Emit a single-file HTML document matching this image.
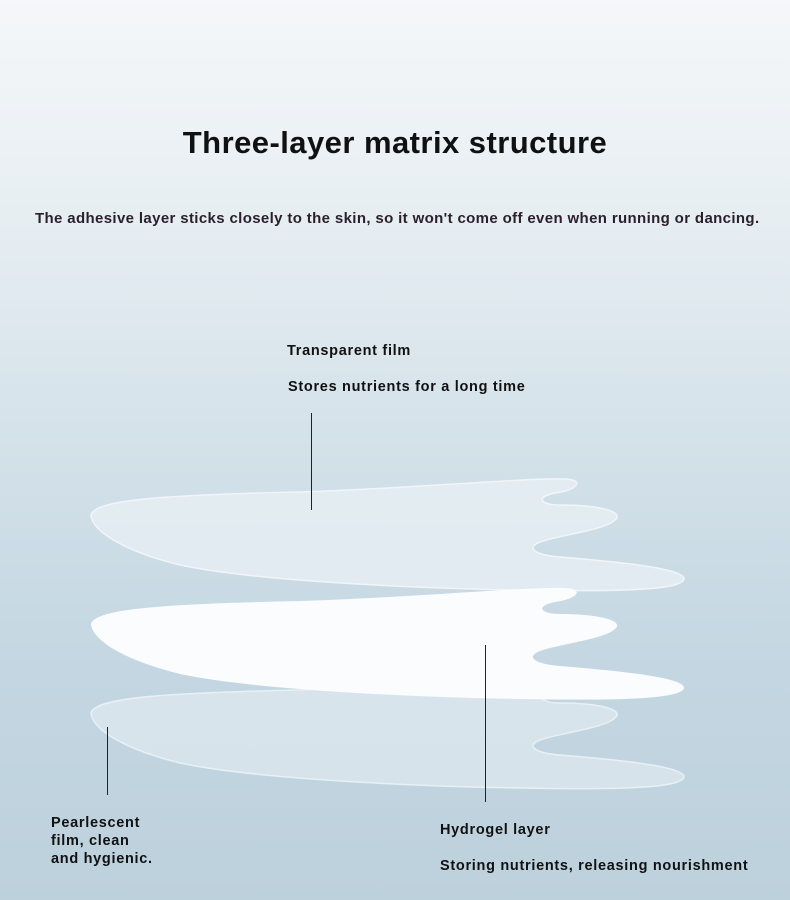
<!DOCTYPE html>
<html><head><style>
body{margin:0;width:790px;height:900px;overflow:hidden;font-family:"Liberation Sans",sans-serif;}
.bg{position:absolute;inset:0;background:linear-gradient(180deg,#f5f7f9 0%,#e8eff3 22%,#d3e1e9 50%,#c3d6e1 75%,#bdd1dd 100%);}
.t{position:absolute;color:#111;font-weight:bold;white-space:nowrap;}
</style></head><body>
<div class="bg"></div>
<svg width="790" height="900" style="position:absolute;left:0;top:0">
<defs>
<path id="p" d="M91,515 C95,500 160,495 300,492 C420,488 520,478 565,479 C585,480 578,490 555,493 C535,497 540,505 560,505 C600,505 625,512 615,520 C605,530 560,535 540,542 C525,548 535,555 560,557 C620,562 680,568 684,578 C686,590 620,592 520,590 C400,588 250,580 180,565 C120,550 92,530 91,515 Z"/>
</defs>
<use href="#p" transform="translate(0,198)" fill="#dde8ef" fill-opacity="0.75" stroke="#e8f0f5" stroke-width="1.5"/>
<use href="#p" fill="#e7eff4" fill-opacity="0.8" stroke="#f0f5f8" stroke-width="1.5"/>
<use href="#p" transform="translate(0,109)" fill="#fafcfd"/>
<line x1="311.5" y1="413" x2="311.5" y2="510" stroke="#222" stroke-width="1"/>
<line x1="485.5" y1="645" x2="485.5" y2="802" stroke="#222" stroke-width="1"/>
<line x1="107.5" y1="727" x2="107.5" y2="795" stroke="#222" stroke-width="1"/>
</svg>
<div class="t" style="left:0;width:790px;text-align:center;top:125px;font-size:31px;letter-spacing:0.45px;">Three-layer matrix structure</div>
<div class="t" style="left:35px;top:210px;font-size:15px;color:#2a1f2a;letter-spacing:0.36px;">The adhesive layer sticks closely to the skin, so it won't come off even when running or dancing.</div>
<div class="t" style="left:287px;top:343px;font-size:14.5px;letter-spacing:0.7px;">Transparent film</div>
<div class="t" style="left:288px;top:379px;font-size:14.5px;letter-spacing:0.7px;">Stores nutrients for a long time</div>
<div class="t" style="left:51px;top:814px;font-size:14.5px;line-height:18px;letter-spacing:0.7px;">Pearlescent<br>film, clean<br>and hygienic.</div>
<div class="t" style="left:440px;top:822px;font-size:14.5px;letter-spacing:0.7px;">Hydrogel layer</div>
<div class="t" style="left:440px;top:858px;font-size:14.5px;letter-spacing:0.7px;">Storing nutrients, releasing nourishment</div>
</body></html>
